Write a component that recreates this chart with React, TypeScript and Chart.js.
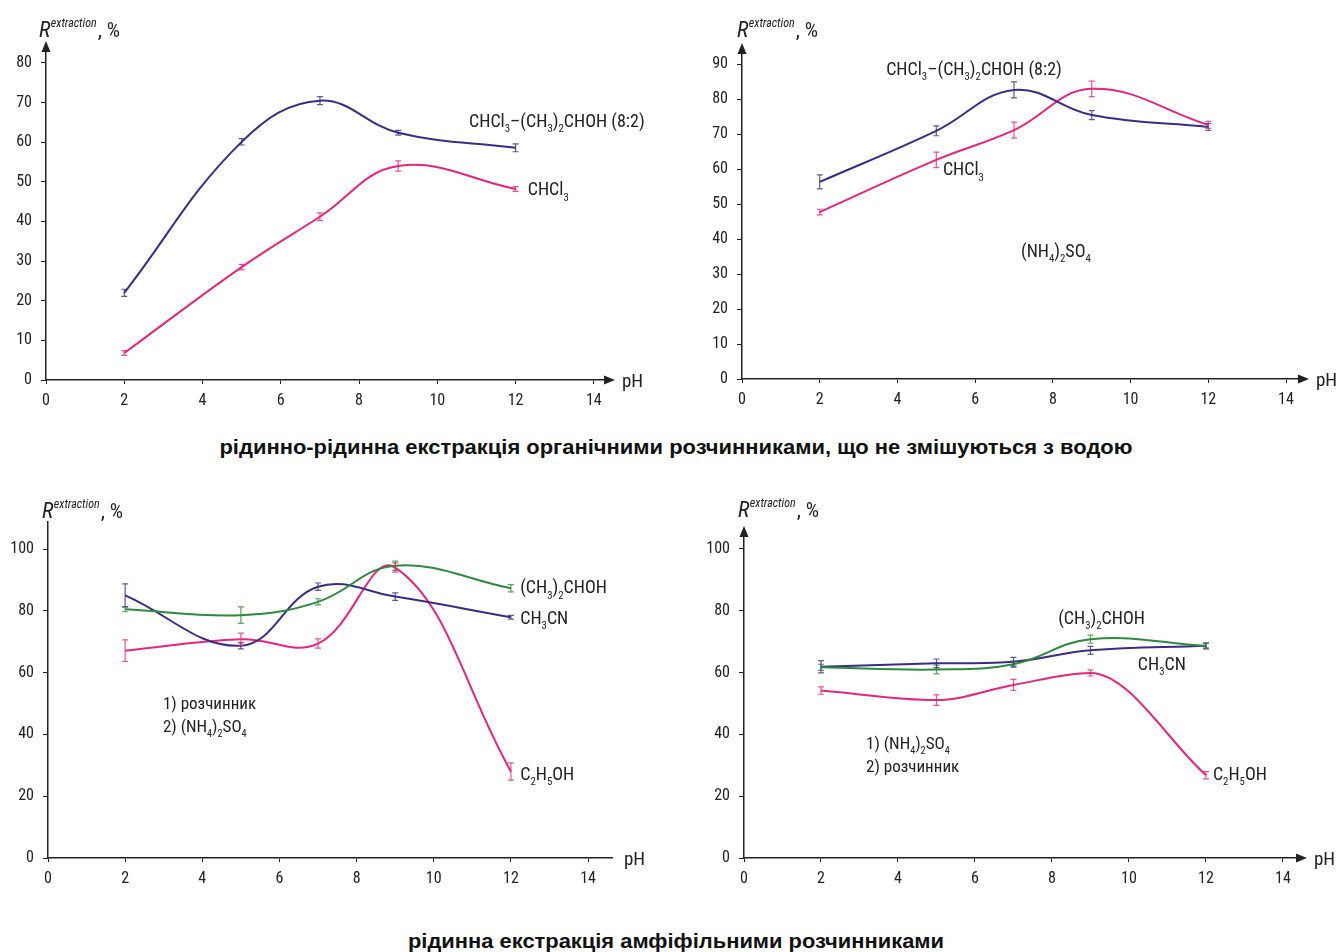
import React, { useEffect, useLayoutEffect, useRef } from 'react';
import { Chart, registerables } from 'chart.js';
Chart.register(...registerables);

const FONT = "'Liberation Sans Narrow', 'Arial Narrow', 'Roboto Condensed', 'Liberation Sans', sans-serif";
const TITLE_FONT = "'Liberation Sans', Arial, sans-serif";
const INK = '#222222';
const BLUE = '#3a2c86';
const PINK = '#e8247c';
const GREEN = '#2e8a3c';

const pH = [2, 5, 7, 9, 12];
const xTickValues = [0, 2, 4, 6, 8, 10, 12, 14];
const yTicksA = [0, 10, 20, 30, 40, 50, 60, 70, 80];
const yTicksB = [0, 10, 20, 30, 40, 50, 60, 70, 80, 90];
const yTicksCD = [0, 20, 40, 60, 80, 100];

// Panel A: liquid-liquid, no salt
const aMix = [22, 60.1, 70.5, 62.4, 58.6];
const aMixErr = [0.9, 0.8, 1.0, 0.6, 1.0];
const aChcl3 = [6.8, 28.5, 41.2, 54, 48.2];
const aChcl3Err = [0.6, 0.7, 1.0, 1.3, 0.6];

// Panel B: liquid-liquid with (NH4)2SO4
const bMix = [56.3, 70.9, 82.6, 75.4, 72];
const bMixErr = [2.0, 1.4, 2.3, 1.3, 1.0];
const bChcl3 = [47.7, 62.6, 71.1, 82.9, 72.6];
const bChcl3Err = [0.8, 2.2, 2.3, 2.2, 1.0];

// Panel C: 1) solvent 2) salt
const cIso = [80.5, 78.6, 82.9, 94.6, 87.3];
const cIsoErr = [0.8, 2.7, 1.0, 1.5, 1.2];
const cAcn = [85, 68.7, 87.8, 84.6, 77.9];
const cAcnErr = [3.7, 1.0, 1.2, 1.2, 0.6];
const cEtoh = [67.1, 70.8, 69.4, 94, 28];
const cEtohErr = [3.5, 2.0, 1.5, 1.5, 2.8];

// Panel D: 1) salt 2) solvent
const dIso = [61.7, 61, 62.7, 70.8, 68.6];
const dIsoErr = [1.0, 1.4, 1.0, 1.3, 1.0];
const dAcn = [61.9, 63, 63.5, 67.2, 68.7];
const dAcnErr = [2.0, 1.4, 1.4, 1.3, 0.8];
const dEtoh = [54.2, 51.1, 56, 59.9, 26.8];
const dEtohErr = [1.2, 1.7, 1.8, 1.0, 1.2];

type Series = { values: number[]; err: number[]; color: string; tension: number; monotone?: boolean };
type Label = { text: string; x: number; y: number; size: number };
type Panel = {
  left: number; top: number; width: number; height: number;
  yAxisW: number; xAxisH: number; padTop: number; padRight: number;
  xMax: number; yMax: number; yTicks: number[];
  arrows: boolean; titleX: number; titleY: number;
  series: Series[]; labels: Label[];
};

const panels: Panel[] = [
  {
    left: 0, top: 0, width: 660, height: 410, yAxisW: 46, xAxisH: 30, padTop: 50, padRight: 54,
    xMax: 14.31, yMax: 83.28, yTicks: yTicksA, arrows: true, titleX: 39, titleY: 37,
    series: [
      { values: aMix, err: aMixErr, color: BLUE, tension: 0.4 },
      { values: aChcl3, err: aChcl3Err, color: PINK, tension: 0.4 },
    ],
    labels: [
      { text: 'CHCl_3–(CH_3)_2CHOH (8:2)', x: 10.81, y: 65.4, size: 18 },
      { text: 'CHCl_3', x: 12.31, y: 48.2, size: 18 },
    ],
  },
  {
    left: 680, top: 0, width: 661, height: 409, yAxisW: 62, xAxisH: 30, padTop: 52, padRight: 41,
    xMax: 14.36, yMax: 93.43, yTicks: yTicksB, arrows: true, titleX: 57, titleY: 37,
    series: [
      { values: bMix, err: bMixErr, color: BLUE, tension: 0.4 },
      { values: bChcl3, err: bChcl3Err, color: PINK, tension: 0.4 },
    ],
    labels: [
      { text: 'CHCl_3–(CH_3)_2CHOH (8:2)', x: 3.71, y: 88.6, size: 18 },
      { text: 'CHCl_3', x: 5.17, y: 60, size: 18 },
      { text: '(NH_4)_2SO_4', x: 7.18, y: 36.6, size: 18 },
    ],
  },
  {
    left: 0, top: 490, width: 660, height: 398, yAxisW: 48, xAxisH: 30, padTop: 32, padRight: 48,
    xMax: 14.62, yMax: 108.74, yTicks: yTicksCD, arrows: false, titleX: 42, titleY: 28,
    series: [
      { values: cIso, err: cIsoErr, color: GREEN, tension: 0.4 },
      { values: cAcn, err: cAcnErr, color: BLUE, tension: 0.4 },
      { values: cEtoh, err: cEtohErr, color: PINK, tension: 0.4 },
    ],
    labels: [
      { text: '(CH_3)_2CHOH', x: 12.24, y: 87.7, size: 18 },
      { text: 'CH_3CN', x: 12.24, y: 77.7, size: 18 },
      { text: 'C_2H_5OH', x: 12.24, y: 27.5, size: 18 },
      { text: '1) розчинник', x: 2.98, y: 50.2, size: 17 },
      { text: '2) (NH_4)_2SO_4', x: 2.98, y: 42.7, size: 17 },
    ],
  },
  {
    left: 680, top: 490, width: 661, height: 398, yAxisW: 64, xAxisH: 30, padTop: 45, padRight: 43,
    xMax: 14.39, yMax: 104.53, yTicks: yTicksCD, arrows: true, titleX: 58, titleY: 27,
    series: [
      { values: dIso, err: dIsoErr, color: GREEN, tension: 0.4 },
      { values: dAcn, err: dAcnErr, color: BLUE, tension: 0.4 },
      { values: dEtoh, err: dEtohErr, color: PINK, tension: 0.4, monotone: true },
    ],
    labels: [
      { text: '(CH_3)_2CHOH', x: 8.16, y: 77.7, size: 18 },
      { text: 'CH_3CN', x: 10.23, y: 62.8, size: 18 },
      { text: 'C_2H_5OH', x: 12.18, y: 27.5, size: 18 },
      { text: '1) (NH_4)_2SO_4', x: 3.17, y: 37.2, size: 17 },
      { text: '2) розчинник', x: 3.17, y: 29.8, size: 17 },
    ],
  },
];

const titles = [
  { text: 'рідинно-рідинна екстракція органічними розчинниками, що не змішуються з водою', cx: 676, cy: 447, w: 913, size: 20 },
  { text: 'рідинна екстракція амфіфільними розчинниками', cx: 676, cy: 940, w: 536, size: 21 },
];

function drawRich(ctx: CanvasRenderingContext2D, text: string, x: number, yc: number, size: number) {
  const parts: { t: string; sub: boolean }[] = [];
  let i = 0;
  while (i < text.length) {
    if (text[i] === '_') { parts.push({ t: text[i + 1], sub: true }); i += 2; }
    else {
      let j = i;
      while (j < text.length && text[j] !== '_') j++;
      parts.push({ t: text.slice(i, j), sub: false });
      i = j;
    }
  }
  const base = yc + size * 0.36;
  let cx = x;
  ctx.save();
  ctx.fillStyle = INK;
  ctx.textBaseline = 'alphabetic';
  ctx.textAlign = 'left';
  for (const p of parts) {
    const fs = p.sub ? size * 0.6 : size;
    ctx.font = `${fs}px ${FONT}`;
    ctx.fillText(p.t, cx, p.sub ? base + size * 0.28 : base);
    cx += ctx.measureText(p.t).width;
  }
  ctx.restore();
}

function hexA(hex: string, a: number) {
  const n = parseInt(hex.slice(1), 16);
  return `rgba(${(n >> 16) & 255},${(n >> 8) & 255},${n & 255},${a})`;
}

function makePlugin(p: Panel) {
  return {
    id: 'decor',
    afterDatasetsDraw(chart: any) {
      const ctx = chart.ctx as CanvasRenderingContext2D;
      const xs = chart.scales.x;
      const ys = chart.scales.y;
      ctx.save();
      p.series.forEach((s) => {
        ctx.strokeStyle = hexA(s.color, 0.8);
        ctx.lineWidth = 1.2;
        s.values.forEach((v, j) => {
          const px = xs.getPixelForValue(pH[j]);
          const y1 = ys.getPixelForValue(v + s.err[j]);
          const y2 = ys.getPixelForValue(v - s.err[j]);
          ctx.beginPath();
          ctx.moveTo(px, y1); ctx.lineTo(px, y2);
          ctx.moveTo(px - 3, y1); ctx.lineTo(px + 3, y1);
          ctx.moveTo(px - 3, y2); ctx.lineTo(px + 3, y2);
          ctx.stroke();
        });
      });
      ctx.restore();
    },
    afterDraw(chart: any) {
      const ctx = chart.ctx as CanvasRenderingContext2D;
      const xs = chart.scales.x;
      const ys = chart.scales.y;
      const a = chart.chartArea;
      ctx.save();
      ctx.fillStyle = INK;
      if (p.arrows) {
        ctx.beginPath();
        ctx.moveTo(a.right - 2, a.bottom - 4.5);
        ctx.lineTo(a.right + 9, a.bottom);
        ctx.lineTo(a.right - 2, a.bottom + 4.5);
        ctx.closePath();
        ctx.fill();
        ctx.beginPath();
        ctx.moveTo(a.left - 4.5, a.top + 2);
        ctx.lineTo(a.left, a.top - 9);
        ctx.lineTo(a.left + 4.5, a.top + 2);
        ctx.closePath();
        ctx.fill();
      }
      ctx.font = `19px ${FONT}`;
      ctx.textBaseline = 'middle';
      ctx.textAlign = 'left';
      ctx.fillText('pH', a.right + (p.arrows ? 16 : 12), a.bottom + 2);
      ctx.textBaseline = 'alphabetic';
      let tx = p.titleX;
      ctx.font = `italic 22px ${FONT}`;
      ctx.fillText('R', tx, p.titleY);
      tx += ctx.measureText('R').width + 0.5;
      ctx.font = `italic 12px ${FONT}`;
      ctx.fillText('extraction', tx, p.titleY - 10);
      tx += ctx.measureText('extraction').width + 1;
      ctx.font = `21px ${FONT}`;
      ctx.fillText(', %', tx, p.titleY);
      ctx.restore();
      p.labels.forEach((l) => {
        drawRich(ctx, l.text, xs.getPixelForValue(l.x), ys.getPixelForValue(l.y), l.size);
      });
    },
  };
}

function PanelChart({ p }: { p: Panel }) {
  const ref = useRef<HTMLCanvasElement>(null);
  useEffect(() => {
    if (!ref.current) return;
    const chart = new Chart(ref.current, {
      type: 'line',
      data: {
        datasets: p.series.map((s) => ({
          data: s.values.map((v, j) => ({ x: pH[j], y: v })),
          borderColor: s.color,
          borderWidth: 2,
          pointRadius: 0,
          tension: s.tension,
          cubicInterpolationMode: s.monotone ? 'monotone' : 'default',
          fill: false,
        })),
      },
      options: {
        animation: false,
        responsive: false,
        maintainAspectRatio: false,
        devicePixelRatio: 1,
        layout: { padding: { top: p.padTop, right: p.padRight, left: 0, bottom: 0 } },
        plugins: { legend: { display: false }, tooltip: { enabled: false } },
        scales: {
          x: {
            type: 'linear',
            min: 0,
            max: p.xMax,
            afterBuildTicks: (s: any) => { s.ticks = xTickValues.map((v) => ({ value: v })); },
            afterFit: (s: any) => { s.height = p.xAxisH; },
            grid: { display: true, drawOnChartArea: false, drawTicks: true, tickLength: 4, color: INK, lineWidth: 1 },
            border: { display: true, color: INK, width: 1.5 },
            ticks: { font: { family: FONT, size: 16 }, color: INK, padding: 7, maxRotation: 0, autoSkip: false },
          },
          y: {
            type: 'linear',
            min: 0,
            max: p.yMax,
            afterBuildTicks: (s: any) => { s.ticks = p.yTicks.map((v) => ({ value: v })); },
            afterFit: (s: any) => { s.width = p.yAxisW; },
            grid: { display: true, drawOnChartArea: false, drawTicks: true, tickLength: 5, color: INK, lineWidth: 1 },
            border: { display: true, color: INK, width: 1.5 },
            ticks: { font: { family: FONT, size: 16 }, color: INK, padding: 9, autoSkip: false },
          },
        },
      } as any,
      plugins: [makePlugin(p)],
    });
    return () => chart.destroy();
  }, [p]);
  return (
    <canvas
      ref={ref}
      width={p.width}
      height={p.height}
      style={{ position: 'absolute', left: p.left, top: p.top, width: p.width, height: p.height }}
    />
  );
}

function FitTitle({ t }: { t: { text: string; cx: number; cy: number; w: number; size: number } }) {
  const ref = useRef<HTMLSpanElement>(null);
  useLayoutEffect(() => {
    const el = ref.current;
    if (!el) return;
    const w = el.offsetWidth;
    if (w > 0) el.style.transform = `translate(-50%, -50%) scaleX(${t.w / w})`;
  }, [t]);
  return (
    <span
      ref={ref}
      style={{
        position: 'absolute', left: t.cx, top: t.cy, whiteSpace: 'nowrap',
        transform: 'translate(-50%, -50%)', transformOrigin: 'center center',
        fontFamily: TITLE_FONT, fontWeight: 'bold', fontSize: t.size, lineHeight: `${t.size + 4}px`, color: '#111',
      }}
    >
      {t.text}
    </span>
  );
}

export default function App() {
  return (
    <div style={{ position: 'absolute', left: 0, top: 0, width: 1341, height: 952, background: '#fff', overflow: 'hidden' }}>
      {panels.map((p, i) => <PanelChart key={i} p={p} />)}
      {titles.map((t, i) => <FitTitle key={i} t={t} />)}
    </div>
  );
}
